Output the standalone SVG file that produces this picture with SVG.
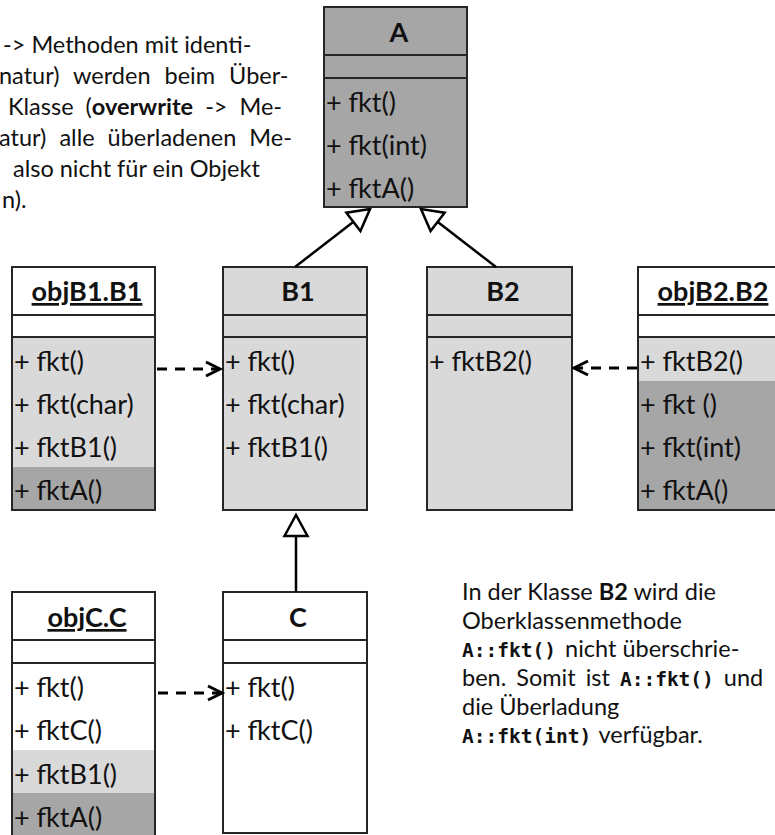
<svg xmlns="http://www.w3.org/2000/svg" width="775" height="835" viewBox="0 0 775 835">
<defs>
<style>
.o{fill:none;stroke:#262626;stroke-width:2}
.d{fill:#a6a6a6}
.l{fill:#d9d9d9}
.w{fill:#ffffff}
text{font-family:Lato,"Open Sans",sans-serif;fill:#111}
.t{font-size:27px}
.h{font-size:27px;font-weight:bold;text-anchor:middle}
.u{text-decoration:underline}
.n{font-size:23.5px}
.b{font-weight:bold}
.m{font-family:"DejaVu Sans Mono","Liberation Mono",monospace;font-weight:bold;font-size:19.5px}
.inh{stroke:#000;stroke-width:2.5;fill:none}
.dep{stroke:#000;stroke-width:3;fill:none;stroke-dasharray:10 8}
</style>
<marker id="tri" viewBox="-26 -16 30 32" markerWidth="30" markerHeight="32" refX="0" refY="0" orient="auto" markerUnits="userSpaceOnUse">
<path d="M0,0 L-21,-11.5 L-21,11.5 Z" fill="#fff" stroke="#000" stroke-width="2.5" stroke-dasharray="none"/>
</marker>
<marker id="chev" viewBox="-20 -12 24 24" markerWidth="24" markerHeight="24" refX="0" refY="0" orient="auto" markerUnits="userSpaceOnUse">
<path d="M-14,-7 L0,0 L-14,7" fill="none" stroke="#000" stroke-width="3" stroke-dasharray="none"/>
</marker>
</defs>

<g id="note-top">
<text class="n" x="3" y="53">-&gt; Methoden mit identi-</text>
<text class="n" x="-1" y="84" word-spacing="8">natur) werden beim Über-</text>
<text class="n" x="8" y="115" word-spacing="6">Klasse (<tspan class="b">overwrite</tspan> -&gt; Me-</text>
<text class="n" x="-1" y="146" word-spacing="7">atur) alle überladenen Me-</text>
<text class="n" x="13" y="177">also nicht für ein Objekt</text>
<text class="n" x="2" y="208">n).</text>
</g>

<g id="A">
<rect class="d" x="324" y="7" width="143" height="200"/>
<rect class="o" x="324" y="7" width="143" height="200"/>
<path class="o" d="M324,55H467M324,78H467"/>
<text class="h" x="399" y="42">A</text>
<text class="t" x="326" y="112">+ fkt()</text>
<text class="t" x="326" y="155">+ fkt(int)</text>
<text class="t" x="326" y="198">+ fktA()</text>
</g>

<g id="objB1">
<rect class="w" x="12" y="267" width="143" height="70"/>
<rect class="l" x="12" y="337" width="143" height="130"/>
<rect class="d" x="12" y="467" width="143" height="43"/>
<rect class="o" x="12" y="267" width="143" height="243"/>
<path class="o" d="M12,315H155M12,337H155"/>
<text class="h u" x="87" y="301">objB1.B1</text>
<text class="t" x="14" y="371">+ fkt()</text>
<text class="t" x="14" y="414">+ fkt(char)</text>
<text class="t" x="14" y="457">+ fktB1()</text>
<text class="t" x="14" y="500">+ fktA()</text>
</g>

<g id="B1">
<rect class="l" x="223" y="267" width="144" height="243"/>
<rect class="o" x="223" y="267" width="144" height="243"/>
<path class="o" d="M223,315H367M223,337H367"/>
<text class="h" x="298" y="301">B1</text>
<text class="t" x="225" y="371">+ fkt()</text>
<text class="t" x="225" y="414">+ fkt(char)</text>
<text class="t" x="225" y="457">+ fktB1()</text>
</g>

<g id="B2">
<rect class="l" x="427" y="267" width="145" height="243"/>
<rect class="o" x="427" y="267" width="145" height="243"/>
<path class="o" d="M427,315H572M427,337H572"/>
<text class="h" x="503" y="301">B2</text>
<text class="t" x="429" y="371">+ fktB2()</text>
</g>

<g id="objB2">
<rect class="w" x="638" y="267" width="150" height="70"/>
<rect class="l" x="638" y="337" width="150" height="44"/>
<rect class="d" x="638" y="381" width="150" height="129"/>
<rect class="o" x="638" y="267" width="150" height="243"/>
<path class="o" d="M638,315H788M638,337H788"/>
<text class="h u" x="713" y="301">objB2.B2</text>
<text class="t" x="640" y="371">+ fktB2()</text>
<text class="t" x="640" y="414">+ fkt ()</text>
<text class="t" x="640" y="457">+ fkt(int)</text>
<text class="t" x="640" y="500">+ fktA()</text>
</g>

<g id="objC">
<rect class="w" x="12" y="592" width="143" height="158"/>
<rect class="l" x="12" y="750" width="143" height="43"/>
<rect class="d" x="12" y="793" width="143" height="45"/>
<rect class="o" x="12" y="592" width="143" height="246"/>
<path class="o" d="M12,640H155M12,663H155"/>
<text class="h u" x="87" y="627">objC.C</text>
<text class="t" x="14" y="697">+ fkt()</text>
<text class="t" x="14" y="740">+ fktC()</text>
<text class="t" x="14" y="784">+ fktB1()</text>
<text class="t" x="14" y="827">+ fktA()</text>
</g>

<g id="C">
<rect class="w" x="223" y="592" width="144" height="241"/>
<rect class="o" x="223" y="592" width="144" height="241"/>
<path class="o" d="M223,640H367M223,663H367"/>
<text class="h" x="298" y="627">C</text>
<text class="t" x="225" y="697">+ fkt()</text>
<text class="t" x="225" y="740">+ fktC()</text>
</g>

<g id="note-bottom">
<text class="n" x="462" y="600">In der Klasse <tspan class="b">B2</tspan> wird die</text>
<text class="n" x="462" y="629">Oberklassenmethode</text>
<text class="n" x="462" y="657"><tspan class="m">A::fkt()</tspan><tspan x="559"> nicht überschrie-</tspan></text>
<text class="n" x="462" y="686" word-spacing="4">ben. Somit ist <tspan class="m">A::fkt()</tspan> und</text>
<text class="n" x="462" y="715">die Überladung</text>
<text class="n" x="462" y="743"><tspan class="m">A::fkt(int)</tspan><tspan x="593"> verfügbar.</tspan></text>
</g>

<g id="connectors">
<line class="inh" x1="295" y1="267" x2="370" y2="209" marker-end="url(#tri)"/>
<line class="inh" x1="496" y1="267" x2="421" y2="209" marker-end="url(#tri)"/>
<line class="inh" x1="296" y1="592" x2="296" y2="515" marker-end="url(#tri)"/>
<line class="dep" x1="157" y1="369" x2="220" y2="369" marker-end="url(#chev)"/>
<line class="dep" x1="158" y1="693" x2="222" y2="693" marker-end="url(#chev)"/>
<line class="dep" x1="637" y1="368" x2="574" y2="368" marker-end="url(#chev)"/>
</g>
</svg>
